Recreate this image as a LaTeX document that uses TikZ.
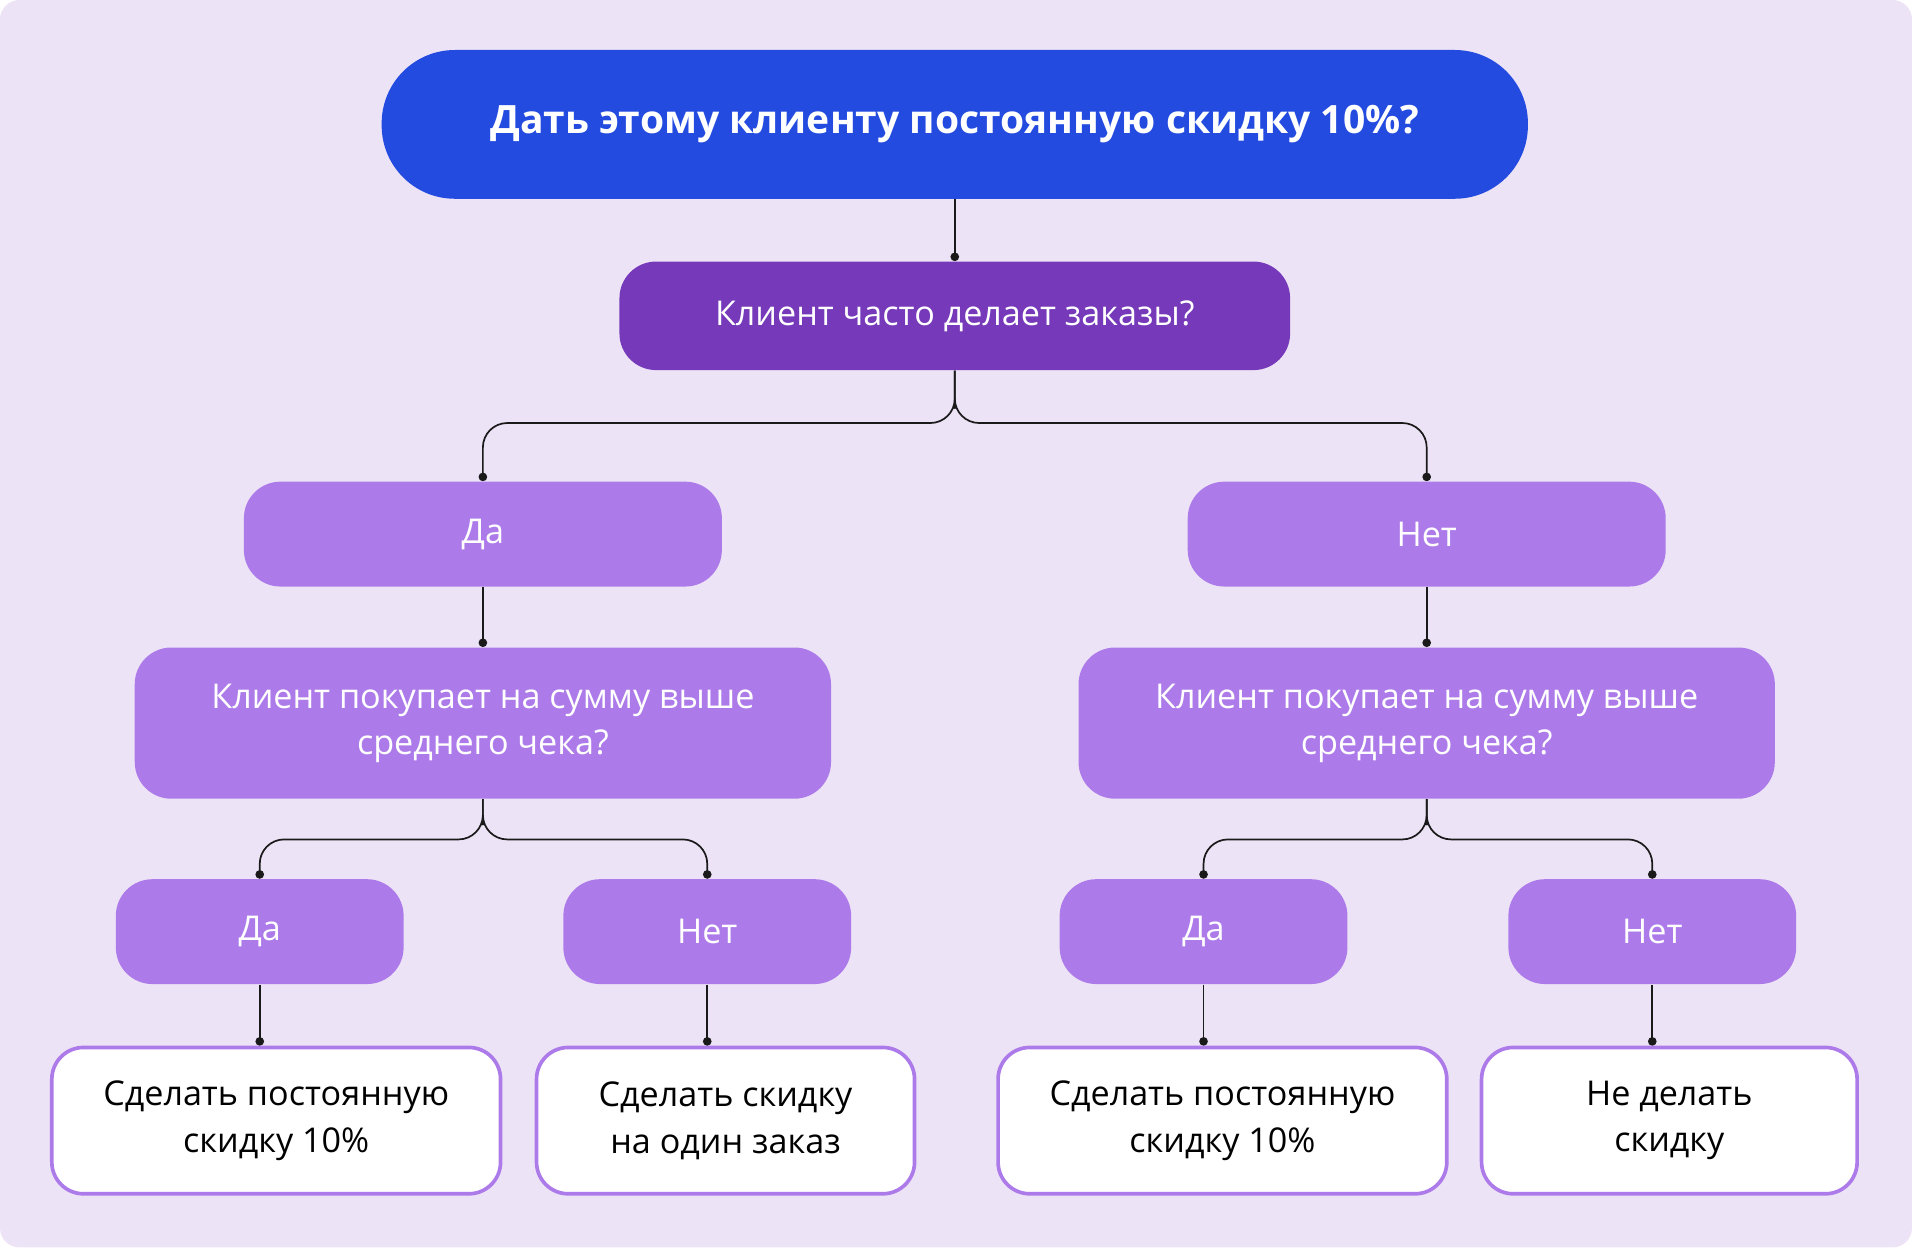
\documentclass[tikz,border=0pt]{standalone}
\usepackage{fontspec}
\setmainfont{Open Sans}
\usetikzlibrary{arrows.meta}
\definecolor{bg}{HTML}{EDE3F7}
\definecolor{topblue}{HTML}{234BE0}
\definecolor{qpurple}{HTML}{7539BA}
\definecolor{lpurple}{HTML}{AD7BE9}
\definecolor{lineclr}{HTML}{1A1A1A}

\begin{document}
\begin{tikzpicture}[x=0.5pt,y=-0.5pt,
    box/.style={rounded corners=15pt,align=center,inner sep=0pt,text=white,font=\fontsize{14}{19}\selectfont},
    mid/.style={box,fill=lpurple},
    leaf/.style={box,fill=white,draw=lpurple,line width=1.5pt,text=black,rounded corners=13pt},
    link/.style={draw=lineclr,line width=0.7pt,rounded corners=10pt,-{Circle[length=3.5pt]}}]
  \fill[bg,rounded corners=8pt] (0,0) rectangle (1568,1023);
  \useasboundingbox (0,0) rectangle (1568,1023);

  % top question
  \node[box,fill=topblue,rounded corners=30pt,minimum width=470pt,minimum height=61pt,
        font=\bfseries\fontsize{16}{20}\selectfont] (title) at (783,102) {Дать этому клиенту постоянную скидку 10\%?};
  \node[box,fill=qpurple,minimum width=275pt,minimum height=44.5pt] (often) at (783,259) {Клиент часто делает заказы?};

  % yes / no
  \node[mid,minimum width=196pt,minimum height=43pt] (yes) at (396,438) {Да};
  \node[mid,minimum width=196pt,minimum height=43pt] (no) at (1170,438) {Нет};
  \node[mid,minimum width=285.5pt,minimum height=62pt] (sumL) at (396,593) {Клиент покупает на сумму выше\\среднего чека?};
  \node[mid,minimum width=285.5pt,minimum height=62pt] (sumR) at (1170,593) {Клиент покупает на сумму выше\\среднего чека?};

  \node[mid,minimum width=118pt,minimum height=43pt] (yesL) at (213,764) {Да};
  \node[mid,minimum width=118pt,minimum height=43pt] (noL) at (580,764) {Нет};
  \node[mid,minimum width=118pt,minimum height=43pt] (yesR) at (987,764) {Да};
  \node[mid,minimum width=118pt,minimum height=43pt] (noR) at (1355,764) {Нет};

  % outcomes
  \node[leaf,minimum width=184pt,minimum height=60pt] (outA) at (226.5,919) {Сделать постоянную\\скидку 10\%};
  \node[leaf,minimum width=155pt,minimum height=60pt] (outB) at (595,919) {Сделать скидку\\на один заказ};
  \node[leaf,minimum width=184pt,minimum height=60pt] (outC) at (1002.5,919) {Сделать постоянную\\скидку 10\%};
  \node[leaf,minimum width=154pt,minimum height=60pt] (outD) at (1369,919) {Не делать\\скидку};

  \draw[link] (title) -- (often);
  \draw[link] (often.south) |- ++(0,43) -| (yes.north);
  \draw[link] (often.south) |- ++(0,43) -| (no.north);
  \draw[link] (yes) -- (sumL);
  \draw[link] (no) -- (sumR);
  \draw[link] (sumL.south) |- ++(0,33) -| (yesL.north);
  \draw[link] (sumL.south) |- ++(0,33) -| (noL.north);
  \draw[link] (sumR.south) |- ++(0,33) -| (yesR.north);
  \draw[link] (sumR.south) |- ++(0,33) -| (noR.north);
  \draw[link] (yesL) -- (yesL |- outA.north);
  \draw[link] (noL) -- (noL |- outB.north);
  \draw[link] (yesR) -- (yesR |- outC.north);
  \draw[link] (noR) -- (noR |- outD.north);
\end{tikzpicture}
\end{document}
